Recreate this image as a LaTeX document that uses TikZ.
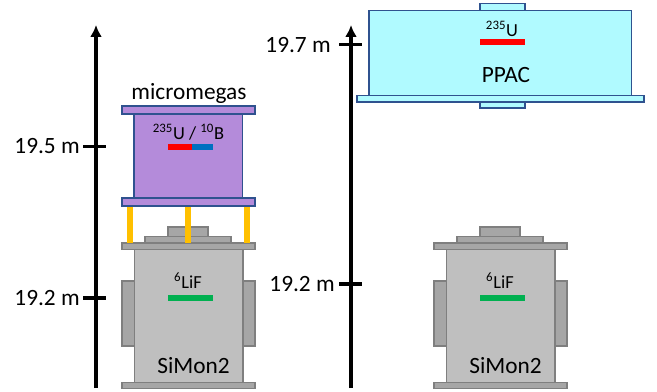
\documentclass[tikz,border=0pt]{standalone}
\usepackage{fontspec}
\setmainfont{Carlito}
\usetikzlibrary{arrows.meta}

\definecolor{grayfill}{HTML}{BFBFBF}
\definecolor{graydark}{HTML}{A6A6A6}
\definecolor{grayline}{HTML}{7F7F7F}
\definecolor{blueline}{HTML}{2F528F}
\definecolor{purplefill}{HTML}{B48BDA}
\definecolor{cyanfill}{HTML}{B0FAFF}
\definecolor{legyellow}{HTML}{FFC000}
\definecolor{foilblue}{HTML}{0070C0}
\definecolor{foilgreen}{HTML}{00B050}

\tikzset{
  axis/.style={line width=2.3pt,-{Latex[length=9pt,width=9pt]}},
  tick/.style={line width=2.3pt},
  label/.style={inner sep=0pt,font=\fontsize{17.5}{20}\selectfont},
  small/.style={inner sep=0pt,font=\fontsize{13.8}{16}\selectfont},
  simon/.style={draw=grayline,line width=0.8pt,fill=grayfill},
  simondark/.style={draw=grayline,line width=0.8pt,fill=graydark},
  mgas/.style={draw=blueline,line width=0.8pt,fill=purplefill},
  ppac/.style={draw=blueline,line width=0.8pt,fill=cyanfill},
}

\begin{document}
\begin{tikzpicture}[x=0.75pt,y=-0.75pt]
\useasboundingbox (0,0) rectangle (657,392);

% the two SiMon2 monitors
\foreach \xs in {0,312} {
  \draw[simondark] (\xs+122,281) rectangle (\xs+135,346);
  \draw[simondark] (\xs+243,281) rectangle (\xs+255,346);
  \draw[simondark] (\xs+168,227) rectangle (\xs+208,236.5);
  \draw[simondark] (\xs+145,236.5) rectangle (\xs+231,243);
  \draw[simon] (\xs+134.5,249) rectangle (\xs+243,383);
  \draw[simondark] (\xs+122,243) rectangle (\xs+255,249.5);
  \draw[simondark] (\xs+122,382.5) rectangle (\xs+255,388.5);
  \fill[foilgreen] (\xs+168,294.5) rectangle (\xs+212.5,300.5);
  \node[small] (lif\xs) at (\xs+188,281) {\textsuperscript{6}LiF};
  \node[label] (simon\xs) at (\xs+193.5,365.5) {SiMon2};
}

% micromegas on its legs
\fill[legyellow] (127,206) rectangle (133,243);
\fill[legyellow] (185,206) rectangle (191,243);
\fill[legyellow] (244,206) rectangle (250,243);
\draw[mgas] (134,114) rectangle (242.5,198);
\draw[mgas] (122,106) rectangle (255,114);
\draw[mgas] (122,198) rectangle (255,206);
\fill[red] (168,144) rectangle (192,150);
\fill[foilblue] (192,144) rectangle (213,150);
\node[small] (foils) at (188.5,132.5) {\textsuperscript{235}U / \textsuperscript{10}B};
\node[label] (micromegas) at (189,93.5) {micromegas};

% PPAC
\draw[ppac] (480,3.5) rectangle (525,10.7);
\draw[ppac] (480,102) rectangle (525,108);
\draw[ppac] (369,10.7) rectangle (631.5,95.5);
\draw[ppac] (357,95.5) rectangle (644,102);
\fill[red] (480,39.5) rectangle (524.5,45.5);
\node[small] (uranium) at (502,28.5) {\textsuperscript{235}U};
\node[label] (ppactext) at (506,75.5) {PPAC};

% height axes
\coordinate (leftbot) at (96,388);
\coordinate (lefttop) at (96,25);
\coordinate (rightbot) at (351,388);
\coordinate (righttop) at (351,25);
\draw[axis] (leftbot) -- (lefttop);
\draw[axis] (rightbot) -- (righttop);

\coordinate (t195a) at (83,146.5);
\coordinate (t195b) at (106,146.5);
\coordinate (t192a) at (83,298);
\coordinate (t192b) at (106,298);
\coordinate (t197a) at (339,44.7);
\coordinate (t197b) at (362,44.7);
\coordinate (t192c) at (339,284);
\coordinate (t192d) at (362,284);
\draw[tick] (t195a) -- (t195b);
\draw[tick] (t192a) -- (t192b);
\draw[tick] (t197a) -- (t197b);
\draw[tick] (t192c) -- (t192d);

\node[label,anchor=east] (h195) at (80,146.5) {19.5 m};
\node[label,anchor=east] (h192) at (80,298) {19.2 m};
\node[label,anchor=east] (h197) at (331,44.7) {19.7 m};
\node[label,anchor=east] (h192b) at (335,284) {19.2 m};
\end{tikzpicture}
\end{document}
